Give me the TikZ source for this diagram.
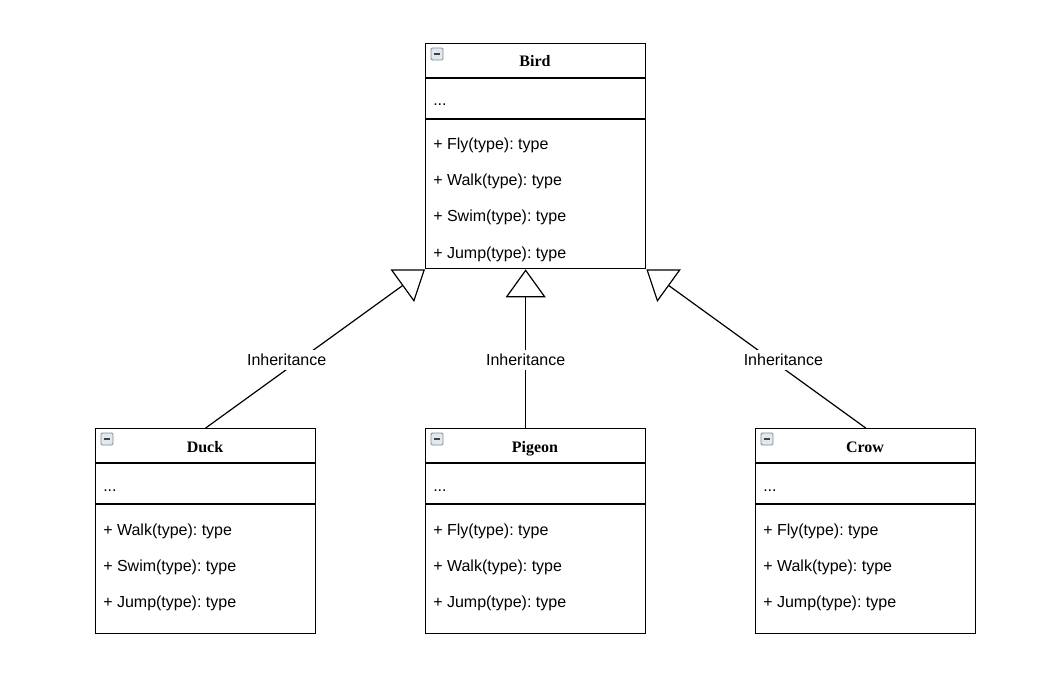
\documentclass[tikz,border=0pt]{standalone}
\usepackage{fontspec}
\setmainfont{Liberation Sans}
\newfontfamily\titlefont{Liberation Serif}
\usetikzlibrary{arrows.meta}
\frenchspacing
\definecolor{iconedge}{HTML}{7F8C99}
\definecolor{iconfill}{HTML}{E3E8EE}
\tikzset{
  classbox/.style={draw, line width=1pt, anchor=north west, inner sep=0pt,
    minimum width=165pt},
  sep/.style={line width=1pt},
  ctitle/.style={font=\fontsize{12}{14}\selectfont\titlefont\bfseries, inner sep=0pt,
    text height=8.5pt, text depth=2.5pt},
  member/.style={font=\fontsize{12}{14}\selectfont, anchor=west, inner sep=0pt,
    text height=8.5pt, text depth=2.5pt},
  icon/.style={draw=iconedge, fill=iconfill, rounded corners=1pt, minimum size=9pt,
    inner sep=0pt, line width=0.7pt,
    path picture={\draw[line width=1.2pt, black!75]
      ([xshift=2pt]path picture bounding box.west) --
      ([xshift=-2pt]path picture bounding box.east);}},
  inherit/.style={line width=0.9pt,
    -{Triangle[open, length=21pt, width=30pt, fill=white]}},
  lbl/.style={font=\fontsize{12}{14}\selectfont, fill=white, inner sep=3pt, pos=0.43}
}
\begin{document}
\begin{tikzpicture}[x=0.75pt, y=-0.75pt]
  \useasboundingbox[fill=white] (0,0) rectangle (1063,695);
  % parent class
  \node[classbox, minimum height=168.75pt] (bird) at (425,43) {};
  \draw[sep] (425,78) -- (645,78);
  \draw[sep] (425,119) -- (645,119);
  \node[icon] (birdicon) at (437,54) {};
  \node[ctitle] (birdtitle) at (535,63) {Bird};
  \node[member] (birdattr) at (433,102) {...};
  \foreach \m [count=\i] in {Fly, Walk, Swim, Jump}
    \node[member] (birdop\i) at (433,110+36*\i) {+ \m(type): type};
  % child classes
  \foreach \c/\x/\n in {duck/95/Duck, pigeon/425/Pigeon, crow/755/Crow} {
    \node[classbox, minimum height=153.75pt] (\c) at (\x,428) {};
    \draw[sep] (\x,463) -- (\x+220,463);
    \draw[sep] (\x,504) -- (\x+220,504);
    \node[icon] (\c icon) at (\x+12,439) {};
    \node[ctitle] (\c title) at (\x+110,448) {\n};
    \node[member] (\c attr) at (\x+8,487) {...};
  }
  \foreach \m [count=\i] in {Walk, Swim, Jump}
    \node[member] (duckop\i) at (103,495+36*\i) {+ \m(type): type};
  \foreach \m [count=\i] in {Fly, Walk, Jump}
    \node[member] (pigeonop\i) at (433,495+36*\i) {+ \m(type): type};
  \foreach \m [count=\i] in {Fly, Walk, Jump}
    \node[member] (crowop\i) at (763,495+36*\i) {+ \m(type): type};
  % generalisation
  \draw[inherit] (duck.north) -- node[lbl, xshift=-10pt] (lblduck) {Inheritance}
    (bird.south west);
  \draw[inherit] ([xshift=-7.5pt]pigeon.north) -- node[lbl] (lblpigeon) {Inheritance}
    ([xshift=-7.5pt]bird.south);
  \draw[inherit] (crow.north) -- node[lbl, xshift=9pt] (lblcrow) {Inheritance}
    (bird.south east);
\end{tikzpicture}
\end{document}
